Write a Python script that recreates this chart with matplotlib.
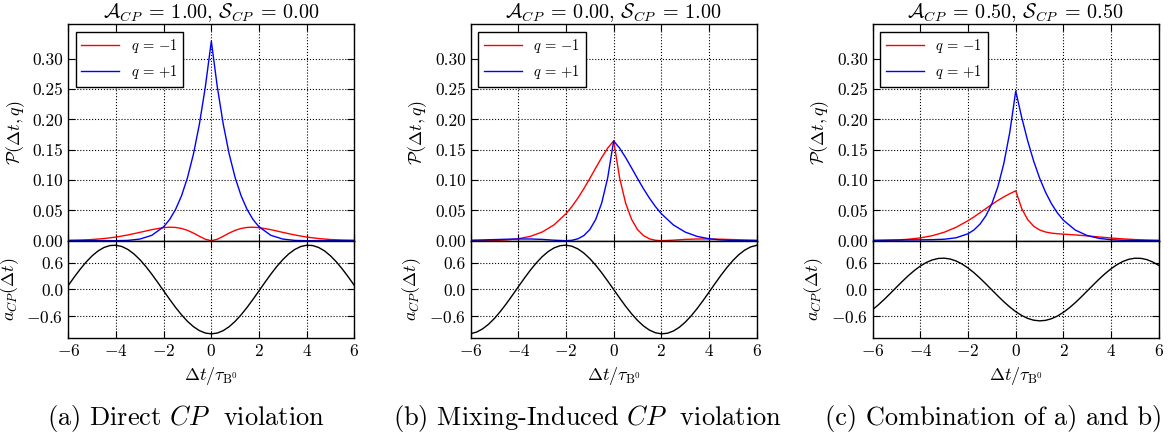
import matplotlib
matplotlib.use("Agg")
import matplotlib.pyplot as plt

plt.rcParams['font.family'] = 'serif'
plt.rcParams['font.serif'] = ['cmr10', 'DejaVu Serif']
plt.rcParams['mathtext.fontset'] = 'cm'
plt.rcParams['axes.formatter.use_mathtext'] = True
plt.rcParams['axes.unicode_minus'] = True
plt.rcParams['xtick.direction'] = 'in'
plt.rcParams['ytick.direction'] = 'in'
plt.rcParams['xtick.top'] = True
plt.rcParams['ytick.right'] = True
plt.rcParams['xtick.major.size'] = 5
plt.rcParams['ytick.major.size'] = 5
plt.rcParams['axes.linewidth'] = 1.0
plt.rcParams['font.size'] = 12.5

# time axis (units of tau_B0) for the decay-rate curves
dt = [-6, -5.5, -5, -4.5, -4, -3.5, -3, -2.5, -2, -1.75, -1.5, -1.25, -1, -0.75, -0.5, -0.25,
      0, 0.25, 0.5, 0.75, 1, 1.25, 1.5, 1.75, 2, 2.5, 3, 3.5, 4, 4.5, 5, 5.5, 6]
# finer time axis for the asymmetry curves
dt_acp = [-6, -5.75, -5.5, -5.25, -5, -4.75, -4.5, -4.25, -4, -3.75, -3.5, -3.25, -3, -2.75,
          -2.5, -2.25, -2, -1.75, -1.5, -1.25, -1, -0.75, -0.5, -0.25, 0, 0.25, 0.5, 0.75,
          1, 1.25, 1.5, 1.75, 2, 2.25, 2.5, 2.75, 3, 3.25, 3.5, 3.75, 4, 4.25, 4.5, 4.75,
          5, 5.25, 5.5, 5.75, 6]

# (a) A_CP = 1, S_CP = 0
p_minus_a = [0.00045, 0.00098, 0.00195, 0.00356, 0.00602, 0.00945, 0.01372, 0.01820, 0.02159,
             0.02227, 0.02189, 0.02021, 0.01708, 0.01261, 0.00731, 0.00237, 0.0,
             0.00237, 0.00731, 0.01261, 0.01708, 0.02021, 0.02189, 0.02227, 0.02159,
             0.01820, 0.01372, 0.00945, 0.00602, 0.00356, 0.00195, 0.00098, 0.00045]
p_plus_a = [0.00037, 0.00036, 0.00027, 0.00010, 0.00001, 0.00049, 0.00267, 0.00882, 0.02297,
            0.03493, 0.05157, 0.07411, 0.10402, 0.14289, 0.19237, 0.25401, 0.32920,
            0.25401, 0.19237, 0.14289, 0.10402, 0.07411, 0.05157, 0.03493, 0.02297,
            0.00882, 0.00267, 0.00049, 0.00001, 0.00010, 0.00027, 0.00036, 0.00037]
acp_a = [0.092, 0.281, 0.459, 0.621, 0.759, 0.870, 0.948, 0.991, 0.998, 0.968, 0.902, 0.803,
         0.674, 0.520, 0.347, 0.161, -0.031, -0.221, -0.404, -0.571, -0.718, -0.838, -0.927,
         -0.982, -1.0, -0.982, -0.927, -0.838, -0.718, -0.571, -0.404, -0.221, -0.031, 0.161,
         0.347, 0.520, 0.674, 0.803, 0.902, 0.968, 0.998, 0.991, 0.948, 0.870, 0.759, 0.621,
         0.459, 0.281, 0.092]

# (b) A_CP = 0, S_CP = 1
p_minus_b = [0.00000, 0.00008, 0.00039, 0.00125, 0.00320, 0.00712, 0.01425, 0.02618, 0.04455,
             0.05649, 0.07033, 0.08586, 0.10270, 0.12020, 0.13734, 0.15271, 0.16460,
             0.10367, 0.06234, 0.03530, 0.01840, 0.00846, 0.00313, 0.00071, 0.00001,
             0.00084, 0.00214, 0.00282, 0.00283, 0.00241, 0.00183, 0.00127, 0.00081]
p_plus_b = [0.00081, 0.00127, 0.00183, 0.00241, 0.00283, 0.00282, 0.00214, 0.00084, 0.00001,
            0.00071, 0.00313, 0.00846, 0.01840, 0.03530, 0.06234, 0.10367, 0.16460,
            0.15271, 0.13734, 0.12020, 0.10270, 0.08586, 0.07033, 0.05649, 0.04455,
            0.02618, 0.01425, 0.00712, 0.00320, 0.00125, 0.00039, 0.00008, 0.00000]
acp_b = [-0.996, -0.960, -0.888, -0.784, -0.651, -0.493, -0.318, -0.131, 0.062, 0.251, 0.432,
         0.596, 0.739, 0.854, 0.938, 0.987, 1.000, 0.975, 0.915, 0.821, 0.696, 0.546, 0.376,
         0.191, 0.0, -0.191, -0.376, -0.546, -0.696, -0.821, -0.915, -0.975, -1.000, -0.987,
         -0.938, -0.854, -0.739, -0.596, -0.432, -0.251, -0.062, 0.131, 0.318, 0.493, 0.651,
         0.784, 0.888, 0.960, 0.996]

# (c) A_CP = 0.5, S_CP = 0.5
p_minus_c = [0.00022, 0.00053, 0.00117, 0.00241, 0.00461, 0.00828, 0.01398, 0.02219, 0.03307,
             0.03938, 0.04611, 0.05304, 0.05989, 0.06640, 0.07232, 0.07754, 0.08230,
             0.05302, 0.03483, 0.02396, 0.01774, 0.01433, 0.01251, 0.01149, 0.01080,
             0.00952, 0.00793, 0.00614, 0.00443, 0.00299, 0.00189, 0.00113, 0.00063]
p_plus_c = [0.00059, 0.00082, 0.00105, 0.00125, 0.00142, 0.00166, 0.00241, 0.00483, 0.01149,
            0.01782, 0.02735, 0.04128, 0.06121, 0.08910, 0.12736, 0.17884, 0.24690,
            0.20336, 0.16485, 0.13154, 0.10336, 0.07999, 0.06095, 0.04571, 0.03376,
            0.01750, 0.00846, 0.00380, 0.00160, 0.00067, 0.00033, 0.00022, 0.00019]
acp_c = [-0.452, -0.339, -0.214, -0.082, 0.054, 0.188, 0.315, 0.430, 0.530, 0.610, 0.667,
         0.700, 0.706, 0.687, 0.642, 0.574, 0.484, 0.377, 0.255, 0.125, -0.011, -0.146,
         -0.276, -0.395, -0.500, -0.586, -0.651, -0.692, -0.707, -0.696, -0.659, -0.598,
         -0.515, -0.413, -0.296, -0.167, -0.033, 0.103, 0.235, 0.358, 0.468, 0.561, 0.633,
         0.682, 0.705, 0.702, 0.674, 0.620, 0.544]

titles = [r'$\mathcal{A}_{CP}\;=\,1.00,\,\mathcal{S}_{CP}\;=\,0.00$',
          r'$\mathcal{A}_{CP}\;=\,0.00,\,\mathcal{S}_{CP}\;=\,1.00$',
          r'$\mathcal{A}_{CP}\;=\,0.50,\,\mathcal{S}_{CP}\;=\,0.50$']
captions = [r'(a) Direct $CP$  violation',
            r'(b) Mixing-Induced $CP$  violation',
            r'(c) Combination of a) and b)']
labels = [r'$q\,=\,{-1}$', r'$q\,=\,{+1}$']

panels = [(p_minus_a, p_plus_a, acp_a), (p_minus_b, p_plus_b, acp_b), (p_minus_c, p_plus_c, acp_c)]
lefts = [0.0582, 0.4009, 0.7434]
caption_x = [0.158, 0.500, 0.846]

fig = plt.figure(figsize=(11.74, 4.41), dpi=100)

for i, (pm, pp, acp) in enumerate(panels):
    ax1 = fig.add_axes([lefts[i], 0.4542, 0.2436, 0.4907])
    ax2 = fig.add_axes([lefts[i], 0.2329, 0.2436, 0.2213], sharex=ax1)

    ax1.plot(dt, pm, color='r', lw=1.0, label=labels[0])
    ax1.plot(dt, pp, color='b', lw=1.0, label=labels[1])
    ax1.set_xlim(-6, 6)
    ax1.set_ylim(0, 0.357)
    ax1.set_yticks([0.0, 0.05, 0.10, 0.15, 0.20, 0.25, 0.30])
    ax1.set_yticklabels(['%.2f' % v for v in [0.0, 0.05, 0.10, 0.15, 0.20, 0.25, 0.30]])
    ax1.tick_params(labelbottom=False)
    ax1.grid(True, linestyle=':', color='k', lw=0.8)
    ax1.set_ylabel(r'$\mathcal{P}(\Delta t, q)$', fontsize=13)
    ax1.set_title(titles[i], fontsize=14.5, pad=4)
    leg = ax1.legend(loc='upper left', fontsize=10.5, fancybox=False, framealpha=1,
                     handlelength=2.6, borderaxespad=0.5)
    leg.get_frame().set_edgecolor('k')

    ax2.plot(dt_acp, acp, color='k', lw=1.0)
    ax2.set_ylim(-1.1, 1.1)
    ax2.set_yticks([-0.6, 0.0, 0.6])
    ax2.set_yticklabels([r'$-0.6$', '0.0', '0.6'])
    ax2.set_xticks([-6, -4, -2, 0, 2, 4, 6])
    ax2.grid(True, linestyle=':', color='k', lw=0.8)
    ax2.set_ylabel(r'$a_{CP}(\Delta t)$', fontsize=13)
    ax2.set_xlabel(r'$\Delta t/\tau_{\mathrm{B}^0}$', fontsize=13)

    fig.text(caption_x[i], 0.05, captions[i], ha='center', va='center', fontsize=19)

fig.savefig('out.png', dpi=100, facecolor='white')
